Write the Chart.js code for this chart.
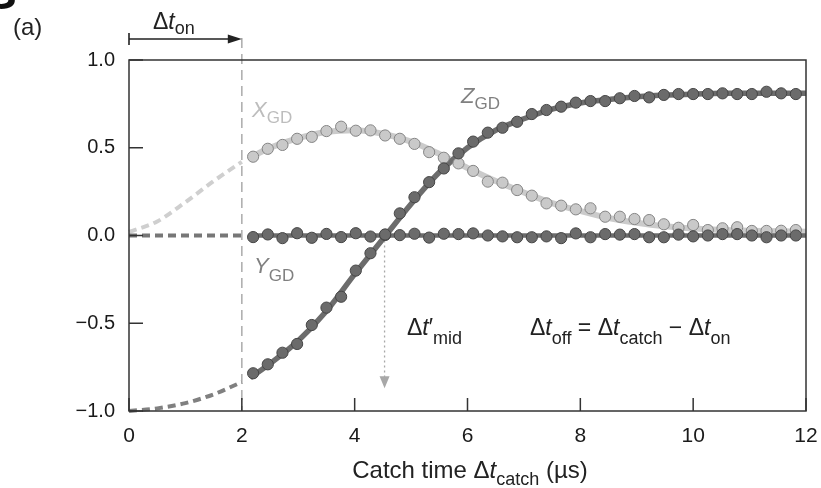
<!DOCTYPE html>
<html><head><meta charset="utf-8">
<script src="https://cdn.jsdelivr.net/npm/chart.js@4.4.1/dist/chart.umd.min.js"></script>
<style>html,body{margin:0;padding:0;background:#fff;}canvas{display:block;}</style>
</head><body>
<canvas id="c" width="821" height="488"></canvas>
<script>
// ---- data ----
const catchTimes = [2.20,2.46,2.72,2.98,3.24,3.50,3.76,4.02,4.28,4.54,4.80,5.06,5.32,5.58,5.84,6.10,6.36,6.62,6.88,7.14,7.40,7.66,7.92,8.18,8.44,8.70,8.96,9.22,9.48,9.74,10.00,10.26,10.52,10.78,11.04,11.30,11.56,11.82];
const xGD = [0.449,0.494,0.516,0.551,0.562,0.595,0.620,0.597,0.599,0.570,0.551,0.522,0.475,0.443,0.411,0.368,0.307,0.301,0.259,0.227,0.183,0.170,0.149,0.155,0.107,0.107,0.094,0.088,0.064,0.044,0.060,0.031,0.041,0.047,0.026,0.026,0.027,0.031];
const yGD = [-0.009,0.006,-0.015,0.013,-0.013,0.009,-0.009,0.013,-0.006,0.006,0.002,0.010,-0.012,0.010,0.008,0.012,0.000,-0.005,-0.010,-0.010,-0.005,-0.015,0.012,-0.010,0.008,0.005,0.008,-0.010,-0.010,0.005,-0.005,0.000,0.008,0.008,0.000,-0.010,0.000,0.000];
const zGD = [-0.785,-0.734,-0.668,-0.618,-0.510,-0.411,-0.349,-0.200,-0.101,0.003,0.126,0.218,0.304,0.382,0.468,0.535,0.586,0.614,0.648,0.692,0.715,0.734,0.757,0.766,0.766,0.782,0.795,0.787,0.801,0.806,0.806,0.806,0.810,0.806,0.806,0.819,0.810,0.806];

const leadT    = [0,0.5,1,1.5,2];
const xFitLead = [0.02,0.08,0.19,0.31,0.42];
const yFitLead = [0,0,0,0,0];
const zFitLead = [-1.0,-0.985,-0.955,-0.905,-0.835];

const fitT = [2.15,2.5,3,3.5,4,4.5,5,5.5,6,6.5,7,7.5,8,8.5,9,9.5,10,10.5,11,11.5,12];
const xFit = [0.445,0.50,0.555,0.59,0.60,0.58,0.535,0.465,0.385,0.31,0.245,0.185,0.14,0.10,0.073,0.053,0.04,0.032,0.027,0.024,0.022];
const yFit = [0,0,0,0,0,0,0,0,0,0,0,0,0,0,0,0,0,0,0,0,0];
const zFit = [-0.81,-0.73,-0.60,-0.43,-0.22,-0.02,0.18,0.36,0.50,0.60,0.665,0.72,0.755,0.775,0.79,0.80,0.805,0.81,0.81,0.81,0.81];

const xTickValues = [0,2,4,6,8,10,12];
const yTickValues = [-1,-0.5,0,0.5,1];
const onTime = 2;        // Δt_on
const midTime = 4.53;    // Δt'_mid
const midArrowEnd = -0.87;

// ---- helpers ----
const FONT = '"Liberation Sans", Arial, Helvetica, sans-serif';
const pts = (xs, ys) => xs.map((x, i) => ({x, y: ys[i]}));
function fontOf(p){ return (p[2] ? 'italic ' : '') + p[1] + 'px ' + FONT; }
function rich(ctx, x, y, parts, align, color){
  ctx.save();
  ctx.fillStyle = color || '#222';
  ctx.textBaseline = 'alphabetic';
  ctx.textAlign = 'left';
  let w = 0;
  for (const p of parts){ ctx.font = fontOf(p); w += ctx.measureText(p[0]).width; }
  let cx = align === 'center' ? x - w/2 : x;
  for (const p of parts){ ctx.font = fontOf(p); ctx.fillText(p[0], cx, y + (p[3]||0)); cx += ctx.measureText(p[0]).width; }
  ctx.restore();
}

const LIGHT_LINE = '#cbcbcb', LIGHT_FILL = '#c9c9c9', LIGHT_EDGE = '#858585';
const DARK_LINE = '#6c6c6c', DARK_FILL = '#6b6b6b', DARK_EDGE = '#454545';

const deco = {
  id: 'deco',
  beforeDatasetsDraw(chart){
    const {ctx, chartArea: a, scales: {x, y}} = chart;
    ctx.save();
    const px = x.getPixelForValue(onTime);
    ctx.strokeStyle = '#ababab'; ctx.lineWidth = 1.5; ctx.setLineDash([10,6]);
    ctx.beginPath(); ctx.moveTo(px, 38); ctx.lineTo(px, a.bottom); ctx.stroke();
    const mx = x.getPixelForValue(midTime);
    const y0 = y.getPixelForValue(0), y1 = y.getPixelForValue(midArrowEnd);
    ctx.setLineDash([2,3]); ctx.strokeStyle = '#a8a8a8'; ctx.lineWidth = 1.3;
    ctx.beginPath(); ctx.moveTo(mx, y0); ctx.lineTo(mx, y1 - 10); ctx.stroke();
    ctx.setLineDash([]); ctx.fillStyle = '#a8a8a8';
    ctx.beginPath(); ctx.moveTo(mx - 5, y1 - 12); ctx.lineTo(mx + 5, y1 - 12); ctx.lineTo(mx, y1); ctx.closePath(); ctx.fill();
    ctx.restore();
  },
  afterDraw(chart){
    const {ctx, chartArea: a, scales: {x, y}} = chart;
    ctx.save();
    ctx.strokeStyle = '#333'; ctx.lineWidth = 1.5;
    ctx.strokeRect(a.left, a.top, a.right - a.left, a.bottom - a.top);
    ctx.beginPath();
    for (const v of xTickValues){ const p = x.getPixelForValue(v); ctx.moveTo(p, a.bottom); ctx.lineTo(p, a.bottom - 13); }
    for (const v of yTickValues){ const p = y.getPixelForValue(v); ctx.moveTo(a.left, p); ctx.lineTo(a.left + 14, p); }
    ctx.stroke();
    const x0 = x.getPixelForValue(0), x2 = x.getPixelForValue(onTime);
    ctx.strokeStyle = '#222'; ctx.fillStyle = '#222'; ctx.lineWidth = 1.6;
    ctx.beginPath(); ctx.moveTo(x0, 33); ctx.lineTo(x0, 45); ctx.moveTo(x0, 39); ctx.lineTo(x2 - 10, 39); ctx.stroke();
    ctx.beginPath(); ctx.moveTo(x2, 39); ctx.lineTo(x2 - 14, 34.5); ctx.lineTo(x2 - 14, 43.5); ctx.closePath(); ctx.fill();
    ctx.font = 'bold 46px ' + FONT; ctx.fillStyle = '#111'; ctx.textBaseline = 'alphabetic';
    ctx.fillText('S', -14, 9);
    ctx.restore();

    rich(ctx, 13, 35, [['(a)', 24]], 'left', '#222');
    rich(ctx, 153, 29, [['Δ', 23], ['t', 23, true], ['on', 18, false, 5]], 'left', '#222');
    rich(ctx, 470, 478, [['Catch time Δ', 24], ['t', 24, true], ['catch', 18, false, 7], [' (µs)', 24]], 'center', '#222');
    rich(ctx, 252, 117, [['X', 22, true], ['GD', 17, false, 6]], 'left', '#bdbdbd');
    rich(ctx, 461, 103, [['Z', 22, true], ['GD', 17, false, 6]], 'left', '#808080');
    rich(ctx, 254, 273, [['Y', 22, true], ['GD', 17, false, 8]], 'left', '#808080');
    rich(ctx, 407, 335, [['Δ', 23], ['t', 23, true], ['′', 23], ['mid', 18, false, 9]], 'left', '#222');
    rich(ctx, 530, 335, [['Δ', 23], ['t', 23, true], ['off', 18, false, 9], [' = Δ', 23], ['t', 23, true], ['catch', 18, false, 9], [' − Δ', 23], ['t', 23, true], ['on', 18, false, 9]], 'left', '#222');
  }
};

const lineDs = (label, xs, ys, color, width, dash, order) => ({
  label, data: pts(xs, ys), borderColor: color, borderWidth: width, borderDash: dash || [],
  pointRadius: 0, showLine: true, fill: false, cubicInterpolationMode: 'monotone', order, clip: false
});
const dotDs = (label, ys, fill, edge, order) => ({
  label, data: pts(catchTimes, ys), showLine: false, pointRadius: 5.6, pointHoverRadius: 5.6,
  pointBackgroundColor: fill, pointBorderColor: edge, pointBorderWidth: 1, order
});

new Chart(document.getElementById('c'), {
  type: 'scatter',
  data: { datasets: [
    dotDs('Y points', yGD, DARK_FILL, DARK_EDGE, 0),
    dotDs('Z points', zGD, DARK_FILL, DARK_EDGE, 1),
    dotDs('X points', xGD, LIGHT_FILL, LIGHT_EDGE, 2),
    lineDs('Y fit', fitT, yFit, DARK_LINE, 4.5, null, 3),
    lineDs('Z fit', fitT, zFit, DARK_LINE, 5.5, null, 4),
    lineDs('X fit', fitT, xFit, LIGHT_LINE, 6, null, 5),
    lineDs('Y lead', leadT, yFitLead, '#777', 4, [8,5], 6),
    lineDs('Z lead', leadT, zFitLead, '#808080', 4, [8,5], 6),
    lineDs('X lead', leadT, xFitLead, '#cfcfcf', 4, [8,5], 7)
  ]},
  options: {
    responsive: false, animation: false, devicePixelRatio: 1,
    layout: { padding: { top: 60, right: 15, left: 0, bottom: 0 } },
    plugins: { legend: { display: false }, tooltip: { enabled: false } },
    scales: {
      x: {
        type: 'linear', min: 0, max: 12,
        afterBuildTicks: s => { s.ticks = xTickValues.map(v => ({value: v})); },
        ticks: { font: { size: 21, family: FONT }, color: '#1a1a1a', padding: 13, maxRotation: 0, autoSkip: false },
        grid: { display: false, drawTicks: false, tickLength: 0 },
        border: { display: false },
        afterFit: s => { s.height = 77; s.paddingLeft = 0; s.paddingRight = 0; }
      },
      y: {
        min: -1, max: 1,
        afterBuildTicks: s => { s.ticks = yTickValues.map(v => ({value: v})); },
        ticks: { font: { size: 20, family: FONT }, color: '#1a1a1a', padding: 14, autoSkip: false,
          callback: v => (v < 0 ? '\u2212' : '') + Math.abs(v).toFixed(1) },
        grid: { display: false, drawTicks: false, tickLength: 0 },
        border: { display: false },
        afterFit: s => { s.width = 129; s.paddingTop = 0; s.paddingBottom = 0; }
      }
    }
  },
  plugins: [deco]
});
</script>
</body></html>
